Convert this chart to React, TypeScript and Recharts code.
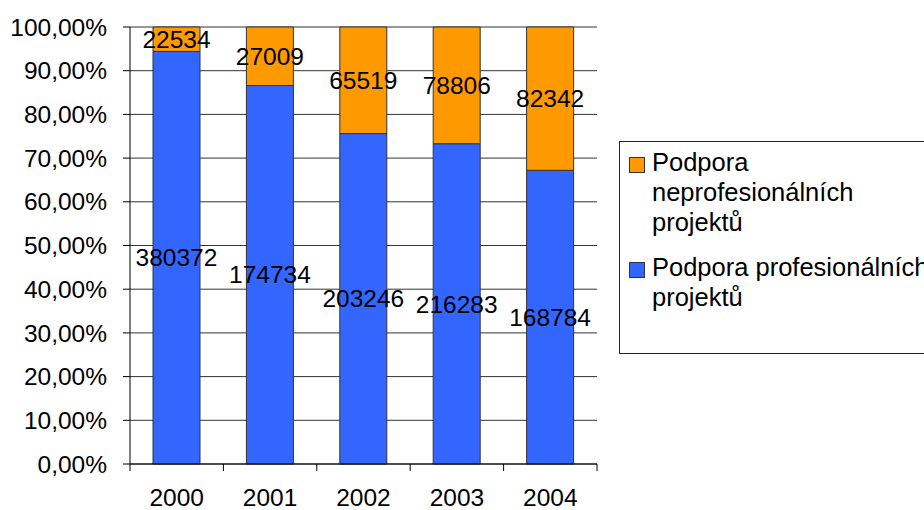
import { BarChart, Bar, XAxis, YAxis, CartesianGrid, LabelList } from 'recharts';

const years = ['2000', '2001', '2002', '2003', '2004'];
const profesionalni = [380372, 174734, 203246, 216283, 168784];
const neprofesionalni = [22534, 27009, 65519, 78806, 82342];
const yTicks = [0, 0.1, 0.2, 0.3, 0.4, 0.5, 0.6, 0.7, 0.8, 0.9, 1];

const legendItems = [
  { name: 'Podpora neprofesionálních projektů', color: '#FF9900' },
  { name: 'Podpora profesionálních projektů', color: '#3366FF' },
];

const data = years.map((year, i) => ({
  year,
  pro: profesionalni[i],
  nepro: neprofesionalni[i],
}));

const FONT = '"Liberation Sans", Arial, sans-serif';
const W = 924;
const H = 510;
const MARGIN = { top: 27, right: 327, bottom: 0, left: 0 };
const Y_AXIS_W = 130;
const PLOT_W = W - MARGIN.left - MARGIN.right - Y_AXIS_W;
const X_TICK_GAP = 25;

const pct = (v: number) => (v * 100).toFixed(2).replace('.', ',') + '%';

// category labels with tick marks on the boundaries between bars
const YearTick = (props: any) => {
  const { x, y, payload, index } = props;
  const half = PLOT_W / years.length / 2;
  const axisY = y - X_TICK_GAP;
  return (
    <g>
      <line x1={x - half} x2={x - half} y1={axisY} y2={axisY + 7} stroke="#000" />
      {index === years.length - 1 && (
        <line x1={x + half} x2={x + half} y1={axisY} y2={axisY + 7} stroke="#000" />
      )}
      <text x={x} y={y} dy="0.71em" textAnchor="middle" fill="#000" fontSize={24.5} fontFamily={FONT}>
        {payload.value}
      </text>
    </g>
  );
};

const valueLabel = (values: number[]) => (props: any) => {
  const box = props.viewBox ?? props;
  const x = Number(box.x) + Number(box.width) / 2;
  const y = Number(box.y) + Number(box.height) / 2;
  return (
    <text x={x} y={y} dy="0.355em" textAnchor="middle" fill="#000" fontSize={24.5} fontFamily={FONT}>
      {values[props.index]}
    </text>
  );
};

const App = () => {
  return (
    <div
      style={{
        position: 'absolute',
        left: 0,
        top: 0,
        width: W,
        height: H,
        overflow: 'hidden',
        background: '#fff',
        fontFamily: FONT,
      }}
    >
      <BarChart width={W} height={H} data={data} stackOffset="expand" margin={MARGIN} barSize={47}>
        <CartesianGrid vertical={false} stroke="#333" strokeOpacity={1} />
        <XAxis
          dataKey="year"
          axisLine={{ stroke: '#000' }}
          tickLine={false}
          tickSize={0}
          tickMargin={X_TICK_GAP}
          height={46}
          interval={0}
          tick={<YearTick />}
        />
        <YAxis
          type="number"
          domain={[0, 1]}
          ticks={yTicks}
          interval={0}
          width={Y_AXIS_W}
          tickFormatter={pct}
          axisLine={{ stroke: '#000' }}
          tickLine={{ stroke: '#000' }}
          tickSize={7}
          tickMargin={16}
          tick={{ fill: '#000', fontSize: 24.5, fontFamily: FONT }}
        />
        <Bar dataKey="pro" stackId="a" fill="#3366FF" stroke="#333" isAnimationActive={false}>
          <LabelList content={valueLabel(profesionalni)} />
        </Bar>
        <Bar dataKey="nepro" stackId="a" fill="#FF9900" stroke="#333" isAnimationActive={false}>
          <LabelList content={valueLabel(neprofesionalni)} />
        </Bar>
      </BarChart>
      <div
        style={{
          position: 'absolute',
          left: 619,
          top: 141,
          width: 340,
          height: 213,
          boxSizing: 'border-box',
          border: '1px solid #222',
          padding: '5px 0 0 9px',
          background: '#fff',
        }}
      >
        {legendItems.map((item) => (
          <div key={item.name} style={{ display: 'flex', alignItems: 'flex-start', marginBottom: 15 }}>
            <div
              style={{
                width: 16,
                height: 16,
                boxSizing: 'border-box',
                marginTop: 10,
                marginRight: 7,
                flexShrink: 0,
                background: item.color,
                border: '1px solid #333',
              }}
            />
            <div style={{ width: 282, fontSize: 25.5, lineHeight: '30px', color: '#000' }}>{item.name}</div>
          </div>
        ))}
      </div>
    </div>
  );
};

export default App;
